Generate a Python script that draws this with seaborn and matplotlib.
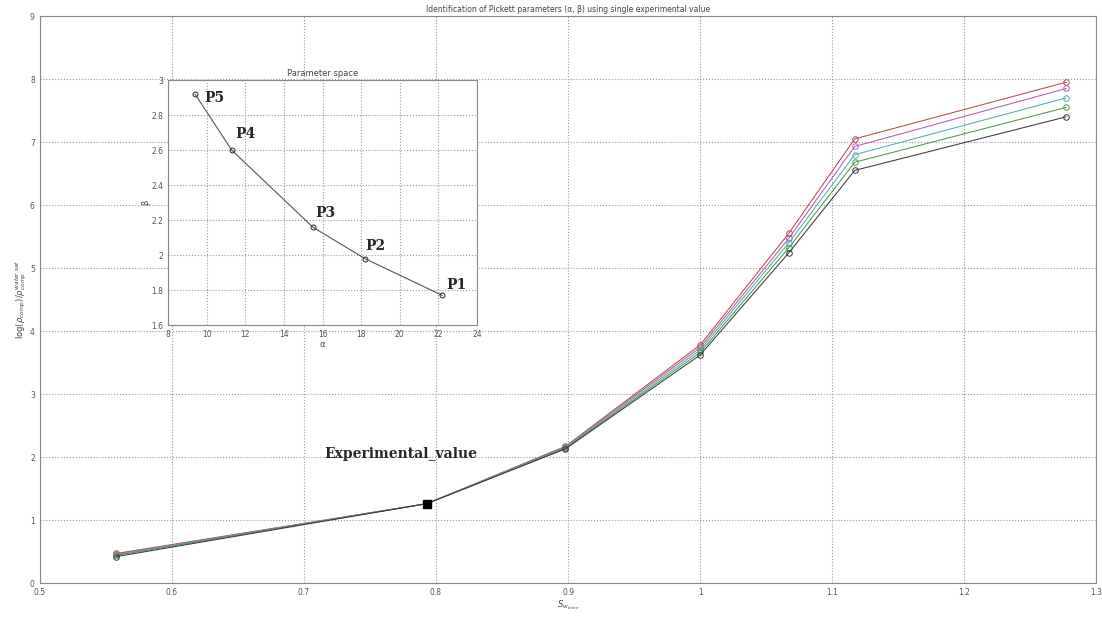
import numpy as np
import pandas as pd
import matplotlib
matplotlib.use("Agg")
import matplotlib.pyplot as plt
import seaborn as sns

# main curves: one per parameter pair P1..P5
sw = [0.558, 0.793, 0.898, 1.0, 1.067, 1.117, 1.277]
curve_p5 = [0.47, 1.26, 2.17, 3.78, 5.55, 7.05, 7.95]
curve_p4 = [0.46, 1.26, 2.16, 3.74, 5.47, 6.93, 7.85]
curve_p3 = [0.45, 1.26, 2.15, 3.70, 5.40, 6.80, 7.70]
curve_p2 = [0.44, 1.26, 2.14, 3.66, 5.32, 6.68, 7.55]
curve_p1 = [0.42, 1.26, 2.13, 3.62, 5.24, 6.55, 7.40]
curve_names = ["P5", "P4", "P3", "P2", "P1"]
curve_colors = ["#b84a4a", "#b55ab5", "#4fb0b0", "#4a9a4a", "#3a3a3a"]

exp_x = [0.793]
exp_y = [1.26]

# parameter space (alpha, beta)
alpha = [9.4, 11.3, 15.5, 18.2, 22.2]
beta = [2.92, 2.60, 2.16, 1.98, 1.77]
point_names = ["P5", "P4", "P3", "P2", "P1"]

sns.set_style("white")
plt.rcParams["font.family"] = ["DejaVu Sans"]

rows = []
for name, ys in zip(curve_names, [curve_p5, curve_p4, curve_p3, curve_p2, curve_p1]):
    for x, y in zip(sw, ys):
        rows.append({"sw": x, "val": y, "set": name})
df = pd.DataFrame(rows)

fig = plt.figure(figsize=(11.02, 6.17), dpi=100)
ax = fig.add_axes([0.036, 0.055, 0.959, 0.919])

sns.lineplot(data=df, x="sw", y="val", hue="set", palette=curve_colors,
             marker="o", markersize=4, markerfacecolor="none",
             markeredgewidth=0.7, linewidth=0.75, legend=False, ax=ax,
             estimator=None, sort=False)
for ln, c in zip(ax.lines, curve_colors):
    ln.set_markeredgecolor(c)

ax.plot(exp_x, exp_y, "s", color="black", markersize=5.5, zorder=5)
ax.text(0.773, 1.93, "Experimental_value", family="serif", fontweight="bold",
        fontsize=10, ha="center", va="bottom")

ax.set_xlim(0.5, 1.3)
ax.set_ylim(0, 9)
ax.set_xticks(np.arange(0.5, 1.31, 0.1))
ax.set_xticklabels(["0.5", "0.6", "0.7", "0.8", "0.9", "1", "1.1", "1.2", "1.3"])
ax.set_yticks(range(0, 10))
ax.grid(True, linestyle=":", color="#999999", linewidth=0.8)
ax.tick_params(direction="in", labelsize=5.5, colors="#555555", length=4)
for s in ax.spines.values():
    s.set_color("#888888")
ax.set_title("Identification of Pickett parameters (\u03b1, \u03b2) using single experimental value",
             fontsize=5.5, color="#444444", pad=3)
ax.set_xlabel(r"$S_{w_{brine}}$", fontsize=6, color="#444444", labelpad=1)
ax.set_ylabel(r"$\log(\rho_{comp})/\rho_{comp}^{water\ sat}$", fontsize=6,
              color="#444444", labelpad=1)

# inset: parameter space
ins = fig.add_axes([0.1525, 0.473, 0.2804, 0.397])
ins.set_facecolor("white")
sns.lineplot(x=alpha, y=beta, ax=ins, color="#555555", linewidth=0.8,
             marker="o", markersize=3.5, markerfacecolor="none",
             markeredgecolor="#333333", sort=False, estimator=None)
offsets = {"P5": (0.5, -0.02), "P4": (0.2, 0.05), "P3": (0.1, 0.04),
           "P2": (0.0, 0.03), "P1": (0.2, 0.02)}
for a, b, n in zip(alpha, beta, point_names):
    dx, dy = offsets[n]
    ins.text(a + dx, b + dy, n, family="serif", fontweight="bold", fontsize=10,
             ha="left", va="bottom" if n != "P5" else "center")
ins.set_xlim(8, 24)
ins.set_ylim(1.6, 3)
ins.set_xticks(range(8, 25, 2))
ins.set_yticks([1.6, 1.8, 2.0, 2.2, 2.4, 2.6, 2.8, 3.0])
ins.set_yticklabels(["1.6", "1.8", "2", "2.2", "2.4", "2.6", "2.8", "3"])
ins.grid(True, linestyle=":", color="#999999", linewidth=0.8)
ins.tick_params(direction="in", labelsize=5.5, colors="#555555", length=3)
for s in ins.spines.values():
    s.set_color("#888888")
ins.set_title("Parameter space", fontsize=6, color="#444444", pad=3)
ins.set_xlabel("\u03b1", fontsize=6, color="#444444", labelpad=1)
ins.set_ylabel("\u03b2", fontsize=6, color="#444444", labelpad=1)

fig.savefig("out.png", dpi=100)
